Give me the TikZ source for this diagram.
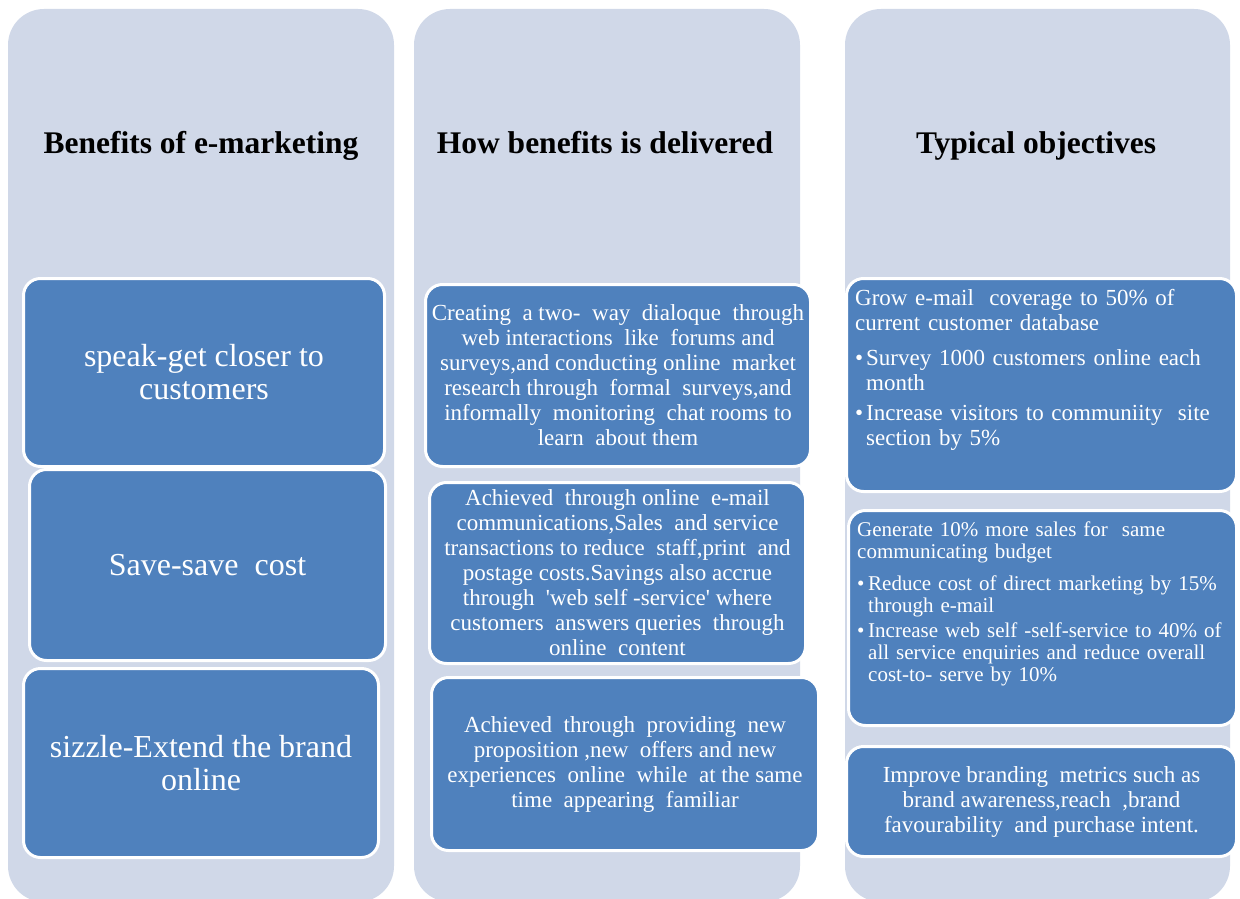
\documentclass[tikz,border=0pt]{standalone}
\usepackage{fontspec}
\setmainfont{Liberation Serif}
\usepackage{xcolor}
\usepackage{tikz}
\definecolor{panelgray}{HTML}{D0D8E8}
\definecolor{boxblue}{HTML}{4F81BD}
\setlength{\parindent}{0pt}
\newcommand{\bul}{\par\hangindent=11pt\hangafter=1\noindent\makebox[11pt][l]{\textbullet}}

\begin{document}
\begin{tikzpicture}[x=1pt,y=-1pt,
	panel/.style={fill=panelgray, rounded corners=36pt},
	item/.style={fill=boxblue, draw=white, line width=3pt, rounded corners=17pt, inner sep=0pt, text=white},
	heading/.style={anchor=base, font=\fontsize{31.5}{36}\selectfont\bfseries},
	bigtext/.style={align=center, font=\fontsize{32}{33}\selectfont},
	midtext/.style={align=center, font=\fontsize{23}{25}\selectfont},
	objtext/.style={text=white, align=left, inner sep=0pt, text width=380pt, anchor=north west}]
	\useasboundingbox (0,0) rectangle (1240,899);
	\clip (0,0) rectangle (1240,899);
	% the three columns
	\fill[panel] (8,9) rectangle (394,902);
	\fill[panel] (414,9) rectangle (800,902);
	\fill[panel] (845,9) rectangle (1230,902);
	% headings
	\node[heading] (benefits) at (201,153) {Benefits of e-marketing};
	\node[heading] (delivered) at (605,153) {How benefits is delivered};
	\node[heading] (objectives) at (1036,153) {Typical objectives};
	% benefits
	\node[item, bigtext, minimum width=361pt, minimum height=188pt] (speak) at (204,372.5) {speak-get closer to\\customers};
	\node[item, bigtext, minimum width=356pt, minimum height=191pt] (save) at (207.5,565) {Save-save\ \ cost};
	\node[item, bigtext, minimum width=355pt, minimum height=189pt] (sizzle) at (201,763) {sizzle-Extend the brand\\online};
	% how they are delivered
	\node[item, midtext, minimum width=385pt, minimum height=182pt] (dialogue) at (618,375.5) {Creating\ \ a two-\ \ way\ \ dialoque\ \ through\\web interactions\ \ like\ \ forums and\\surveys,and conducting online\ \ market\\research through\ \ formal\ \ surveys,and\\informally\ \ monitoring\ \ chat rooms to\\learn\ \ about them};
	\node[item, midtext, minimum width=376pt, minimum height=181pt] (email) at (617.5,573) {Achieved\ \ through online\ \ e-mail\\communications,Sales\ \ and service\\transactions to reduce\ \ staff,print\ \ and\\postage costs.Savings also accrue\\through\ \ \textquotesingle web self -service\textquotesingle\ where\\customers\ \ answers queries\ \ through\\online\ \ content};
	\node[item, midtext, minimum width=387pt, minimum height=173pt] (offers) at (625,764) {Achieved\ \ through\ \ providing\ \ new\\proposition ,new\ \ offers and new\\experiences\ \ online\ \ while\ \ at the same\\time\ \ appearing\ \ familiar};
	% objectives
	\node[item, minimum width=390pt, minimum height=213pt] (grow) at (1041.5,385) {};
	\node[objtext, font=\fontsize{23}{25}\selectfont] (growtext) at (855,289) {Grow e-mail\ \ coverage to 50\% of\newline current customer database\par\vspace{10pt}\bul Survey 1000 customers online each\newline month\par\vspace{5pt}\bul Increase visitors to communiity\ \ site\newline section by 5\%\par};
	\node[item, minimum width=388pt, minimum height=215pt] (sales) at (1042.5,618) {};
	\node[objtext, font=\fontsize{21}{22}\selectfont] (salestext) at (857,522) {Generate 10\% more sales for\ \ same\newline communicating budget\par\vspace{10pt}\bul Reduce cost of direct marketing by 15\%\newline through e-mail\par\vspace{3pt}\bul Increase web self -self-service to 40\% of\newline all service enquiries and reduce overall\newline cost-to- serve by 10\%\par};
	\node[item, midtext, minimum width=390pt, minimum height=110pt] (branding) at (1041.5,801.5) {Improve branding\ \ metrics such as\\brand awareness,reach\ \ ,brand\\favourability\ \ and purchase intent.};
\end{tikzpicture}
\end{document}
